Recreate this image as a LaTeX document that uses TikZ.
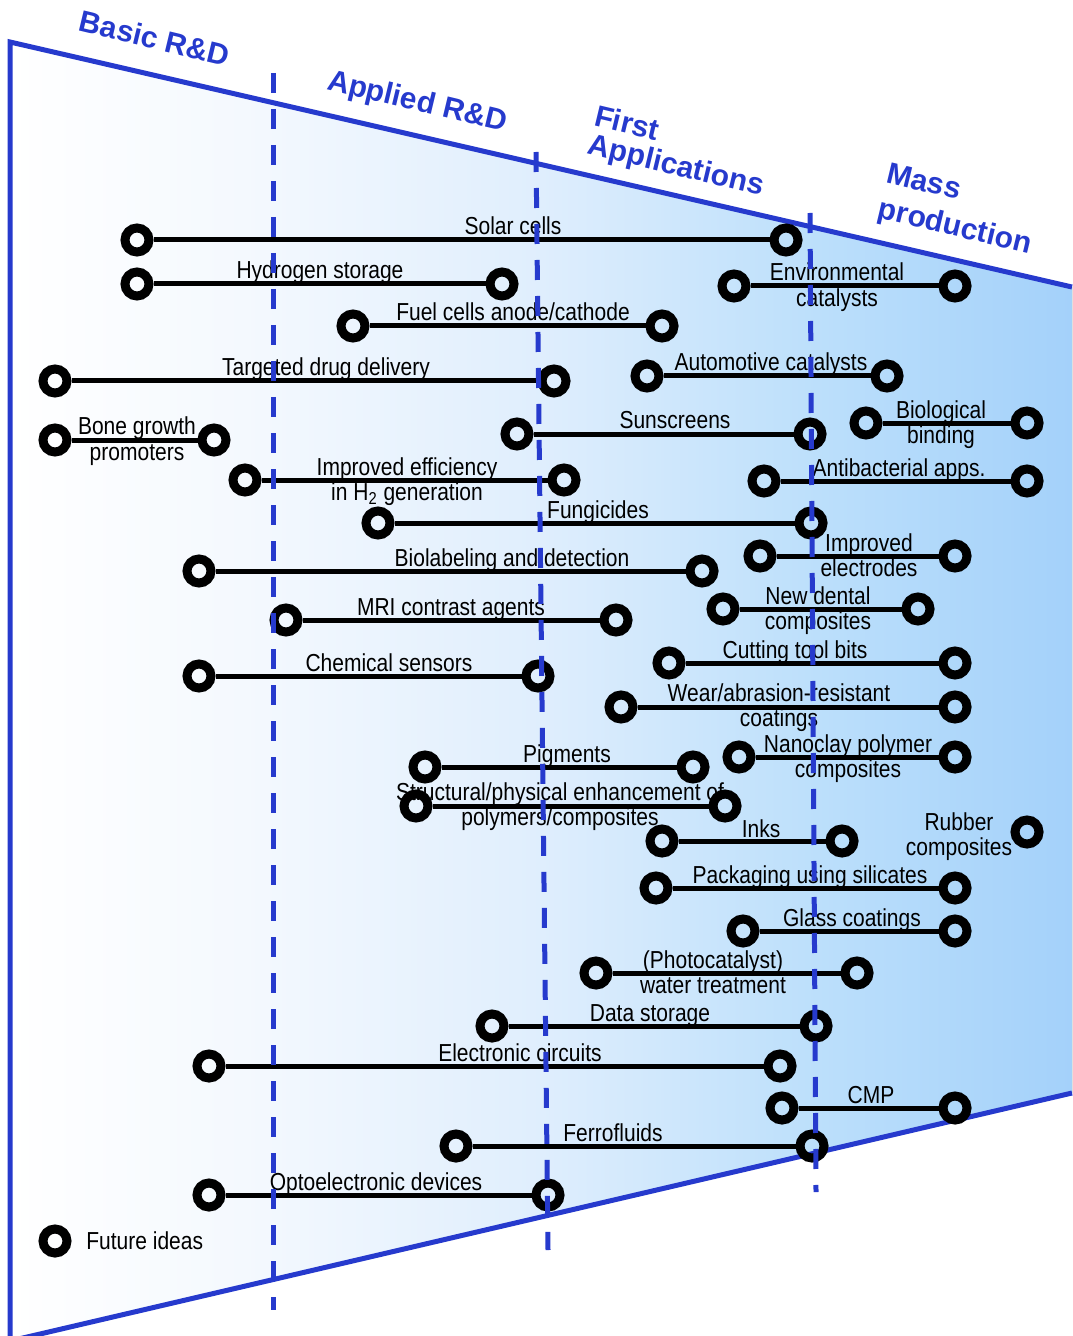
\documentclass[tikz,border=0pt]{standalone}
\usepackage{fontspec}
\usepackage{graphicx}
\setmainfont{Liberation Sans}
\definecolor{hdr}{RGB}{38,58,205}
\pgfdeclarehorizontalshading{bgshade}{100bp}{rgb(0bp)=(1,1,1); rgb(25bp)=(1,1,1); rgb(37bp)=(0.953,0.973,0.996); rgb(50bp)=(0.875,0.933,0.992); rgb(63bp)=(0.737,0.875,0.984); rgb(75bp)=(0.643,0.820,0.980); rgb(100bp)=(0.643,0.820,0.980)}
\newcommand\Lb[1]{\scalebox{1}[1.17]{\begin{tabular}[t]{@{}c@{}}#1\end{tabular}}}
\begin{document}
\begin{tikzpicture}[x=0.5pt,y=-0.5pt,
  ring/.style={circle,draw=black,line width=4.5pt,minimum size=12pt,inner sep=0pt},
  conn/.style={line width=2.5pt,draw=black},
  lab/.style={anchor=base,inner sep=0pt,font=\fontsize{10.5}{10.7}\selectfont},
  hd/.style={text=hdr,font=\fontsize{15}{18}\selectfont\bfseries,rotate=-13.5,inner sep=0pt,align=left},
  border/.style={draw=hdr,line width=2.5pt},
  phase/.style={draw=hdr,line width=2.5pt,dash pattern=on 10pt off 8pt}]
\useasboundingbox (0,0) rectangle (1072,1336);
\fill[shading=bgshade] (10,42) -- (1072,287) -- (1072,1093) -- (10,1341) -- cycle;
\draw[border,line join=miter] (1072,287) -- (10,42) -- (10,1341) -- (1072,1093);

% headers
\node[hd] (hbasic) at (155,38) {Basic R\&D};
\node[hd] (happl) at (417,103) {Applied R\&D};
\node[hd,font=\fontsize{15}{14.5}\selectfont\bfseries] (hfirst) at (679,153) {First\\Applications};
\node[hd,font=\fontsize{15}{18}\selectfont\bfseries] (hmass) at (959,211) {Mass\\production};

% items
\node[ring] (s1) at (137,240) {}; \node[ring] (s2) at (786,240) {}; \draw[conn] (s1) -- (s2);
\node[lab] (sl) at (513,235) {\Lb{Solar cells}};
\node[ring] (h1) at (137,284) {}; \node[ring] (h2) at (502,284) {}; \draw[conn] (h1) -- (h2);
\node[lab] (hl) at (320,279) {\Lb{Hydrogen storage}};
\node[ring] (e1) at (734,286) {}; \node[ring] (e2) at (955,286) {}; \draw[conn] (e1) -- (e2);
\node[lab] (el) at (837,281) {\Lb{Environmental\\catalysts}};
\node[ring] (f1) at (353,326) {}; \node[ring] (f2) at (662,326) {}; \draw[conn] (f1) -- (f2);
\node[lab] (fl) at (513,321) {\Lb{Fuel cells anode/cathode}};
\node[ring] (t1) at (55,381) {}; \node[ring] (t2) at (554,381) {}; \draw[conn] (t1) -- (t2);
\node[lab] (tl) at (326,376) {\Lb{Targeted drug delivery}};
\node[ring] (a1) at (647,376) {}; \node[ring] (a2) at (887,376) {}; \draw[conn] (a1) -- (a2);
\node[lab] (al) at (771,371) {\Lb{Automotive catalysts}};
\node[ring] (b1) at (55,440) {}; \node[ring] (b2) at (214,440) {}; \draw[conn] (b1) -- (b2);
\node[lab] (bl) at (137,435) {\Lb{Bone growth\\promoters}};
\node[ring] (su1) at (517,434) {}; \node[ring] (su2) at (810,434) {}; \draw[conn] (su1) -- (su2);
\node[lab] (sul) at (675,429) {\Lb{Sunscreens}};
\node[ring] (bi1) at (866,423) {}; \node[ring] (bi2) at (1027,423) {}; \draw[conn] (bi1) -- (bi2);
\node[lab] (bil) at (941,418) {\Lb{Biological\\binding}};
\node[ring] (ie1) at (245,480) {}; \node[ring] (ie2) at (564,480) {}; \draw[conn] (ie1) -- (ie2);
\node[lab] (iel) at (407,475) {\Lb{Improved efficiency\\in H\textsubscript{2} generation}};
\node[ring] (ab1) at (764,481) {}; \node[ring] (ab2) at (1027,481) {}; \draw[conn] (ab1) -- (ab2);
\node[lab] (abl) at (899,476) {\Lb{Antibacterial apps.}};
\node[ring] (fu1) at (378,523) {}; \node[ring] (fu2) at (811,523) {}; \draw[conn] (fu1) -- (fu2);
\node[lab] (ful) at (598,518) {\Lb{Fungicides}};
\node[ring] (ed1) at (760,556) {}; \node[ring] (ed2) at (955,556) {}; \draw[conn] (ed1) -- (ed2);
\node[lab] (edl) at (869,551) {\Lb{Improved\\electrodes}};
\node[ring] (bl1) at (199,571) {}; \node[ring] (bl2) at (702,571) {}; \draw[conn] (bl1) -- (bl2);
\node[lab] (bll) at (512,566) {\Lb{Biolabeling and detection}};
\node[ring] (nd1) at (723,609) {}; \node[ring] (nd2) at (918,609) {}; \draw[conn] (nd1) -- (nd2);
\node[lab] (ndl) at (818,604) {\Lb{New dental\\composites}};
\node[ring] (mr1) at (286,620) {}; \node[ring] (mr2) at (616,620) {}; \draw[conn] (mr1) -- (mr2);
\node[lab] (mrl) at (451,615) {\Lb{MRI contrast agents}};
\node[ring] (ct1) at (669,663) {}; \node[ring] (ct2) at (955,663) {}; \draw[conn] (ct1) -- (ct2);
\node[lab] (ctl) at (795,658) {\Lb{Cutting tool bits}};
\node[ring] (cs1) at (199,676) {}; \node[ring] (cs2) at (538,676) {}; \draw[conn] (cs1) -- (cs2);
\node[lab] (csl) at (389,671) {\Lb{Chemical sensors}};
\node[ring] (wa1) at (621,707) {}; \node[ring] (wa2) at (955,707) {}; \draw[conn] (wa1) -- (wa2);
\node[lab] (wal) at (779,701) {\Lb{Wear/abrasion-resistant\\coatings}};
\node[ring] (nc1) at (739,757) {}; \node[ring] (nc2) at (955,757) {}; \draw[conn] (nc1) -- (nc2);
\node[lab] (ncl) at (848,752) {\Lb{Nanoclay polymer\\composites}};
\node[ring] (pg1) at (425,767) {}; \node[ring] (pg2) at (693,767) {}; \draw[conn] (pg1) -- (pg2);
\node[lab] (pgl) at (567,762) {\Lb{Pigments}};
\node[ring] (sp1) at (416,806) {}; \node[ring] (sp2) at (725,806) {}; \draw[conn] (sp1) -- (sp2);
\node[lab] (spl) at (560,800) {\Lb{Structural/physical enhancement of\\polymers/composites}};
\node[ring] (ik1) at (662,841) {}; \node[ring] (ik2) at (842,841) {}; \draw[conn] (ik1) -- (ik2);
\node[lab] (ikl) at (761,837) {\Lb{Inks}};
\node[ring] (rb1) at (1027,832) {};
\node[lab] (rbl) at (959,830) {\Lb{Rubber\\composites}};
\node[ring] (pk1) at (656,888) {}; \node[ring] (pk2) at (955,888) {}; \draw[conn] (pk1) -- (pk2);
\node[lab] (pkl) at (810,883) {\Lb{Packaging using silicates}};
\node[ring] (gc1) at (743,931) {}; \node[ring] (gc2) at (955,931) {}; \draw[conn] (gc1) -- (gc2);
\node[lab] (gcl) at (852,926) {\Lb{Glass coatings}};
\node[ring] (pc1) at (596,973) {}; \node[ring] (pc2) at (857,973) {}; \draw[conn] (pc1) -- (pc2);
\node[lab] (pcl) at (713,968) {\Lb{(Photocatalyst)\\water treatment}};
\node[ring] (ds1) at (492,1026) {}; \node[ring] (ds2) at (816,1026) {}; \draw[conn] (ds1) -- (ds2);
\node[lab] (dsl) at (650,1021) {\Lb{Data storage}};
\node[ring] (ec1) at (209,1066) {}; \node[ring] (ec2) at (780,1066) {}; \draw[conn] (ec1) -- (ec2);
\node[lab] (ecl) at (520,1061) {\Lb{Electronic circuits}};
\node[ring] (cm1) at (782,1108) {}; \node[ring] (cm2) at (955,1108) {}; \draw[conn] (cm1) -- (cm2);
\node[lab] (cml) at (871,1103) {\Lb{CMP}};
\node[ring] (ff1) at (456,1146) {}; \node[ring] (ff2) at (812,1146) {}; \draw[conn] (ff1) -- (ff2);
\node[lab] (ffl) at (613,1141) {\Lb{Ferrofluids}};
\node[ring] (oe1) at (209,1195) {}; \node[ring] (oe2) at (548,1195) {}; \draw[conn] (oe1) -- (oe2);
\node[lab] (oel) at (376,1190) {\Lb{Optoelectronic devices}};

% legend
\node[ring] (lg) at (55,1241) {};
\node[lab,anchor=base west] (lgl) at (86,1249) {\Lb{Future ideas}};

% phase separators
\draw[phase] (273,73) -- (273,1310);
\draw[phase] (536,152) -- (548,1250);
\draw[phase] (810,213) -- (816,1192);
\end{tikzpicture}
\end{document}
